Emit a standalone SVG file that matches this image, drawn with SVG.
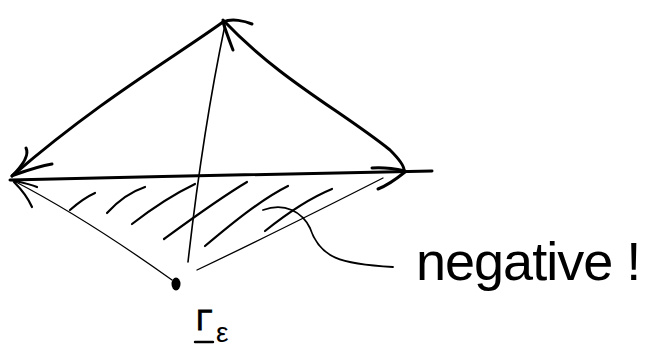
<svg xmlns="http://www.w3.org/2000/svg" width="661" height="361" viewBox="0 0 661 361">
<style>
.thick{fill:none;stroke:#000;stroke-width:3;stroke-linecap:round;stroke-linejoin:round}
.mid{fill:none;stroke:#000;stroke-width:2.2;stroke-linecap:round}
.thin{fill:none;stroke:#000;stroke-width:1.3;stroke-linecap:round}
.lbl{font-family:"Liberation Sans",Arial,sans-serif;fill:#000}
</style>
<rect width="661" height="361" fill="#fff"/>
<g id="connectors">
  <path class="thick" d="M223,22 C170,60 100,100 12,176"/>
  <path class="thick" d="M12,176 C20,168 30,156 26,148 M14,175 C28,170 40,166 52,164"/>
  <path class="thick" d="M223,20 C280,80 340,110 390,150 C400,160 404,166 404,170"/>
  <path class="thick" d="M372,168 C385,167 396,169 405,171 M405,172 C395,180 386,186 378,189"/>
  <path class="thick" d="M10,180 C150,177 300,173 432,171"/>
  <path class="mid" d="M11,180 C20,182 30,184 37,187 M14,182 C22,190 28,198 32,207"/>
  <path class="thin" d="M188,262 C195,200 205,120 225,25" style="stroke-width:1.6"/>
  <path class="thick" d="M223,22 C232,18 245,21 252,24 M223,22 C226,32 230,42 233,50"/>
  <path class="thin" d="M14,181 C70,210 130,250 172,280"/>
  <path class="thin" d="M197,270 C260,240 320,210 383,178"/>
  <path class="mid" d="M70,210 C78,203 86,197 95,193"/>
  <path class="mid" d="M107,213 C117,202 130,192 145,187"/>
  <path class="mid" d="M132,224 C150,210 170,196 195,184"/>
  <path class="mid" d="M164,239 C190,220 220,198 247,182"/>
  <path class="mid" d="M205,246 C230,225 260,200 288,186"/>
  <path class="mid" d="M265,231 C285,215 310,198 332,189"/>
  <path class="mid" d="M263,210 C285,202 302,212 310,228 C320,258 340,264 393,267" style="stroke-width:1.8"/>
</g>
<g id="source">
  <ellipse cx="176" cy="284" rx="4.5" ry="6.5" fill="#000"/>
  <text class="lbl" x="196" y="330" font-size="30" stroke="#000" stroke-width="0.8">Γ</text>
  <line x1="195" y1="342" x2="213" y2="342" stroke="#000" stroke-width="2.4" stroke-linecap="round"/>
  <text class="lbl" x="216" y="342" font-size="28">ε</text>
</g>
<g id="note">
  <text class="lbl" x="416" y="280" font-size="54" letter-spacing="-1">negative !</text>
</g>
</svg>
